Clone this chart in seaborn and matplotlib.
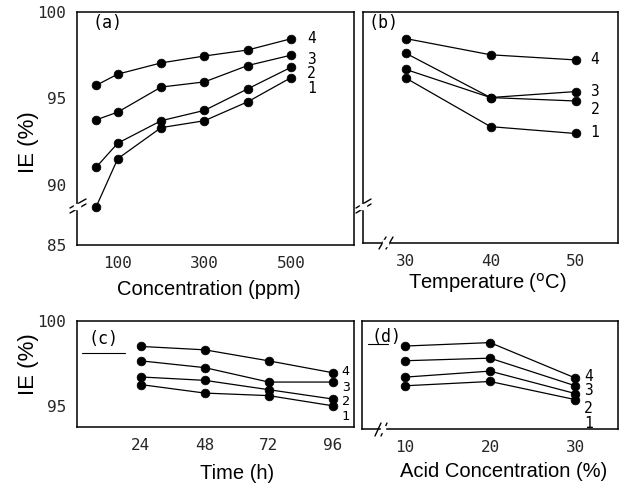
import matplotlib
matplotlib.use("Agg")
import matplotlib.pyplot as plt
from matplotlib.lines import Line2D
from matplotlib.patches import Rectangle
import seaborn as sns
import pandas as pd

# ---------------- data ----------------
series_names = ["1", "2", "3", "4"]

a_x = [50, 100, 200, 300, 400, 500]
a_1 = [88.7, 91.5, 93.3, 93.7, 94.8, 96.2]
a_2 = [91.0, 92.4, 93.7, 94.3, 95.55, 96.8]
a_3 = [93.75, 94.2, 95.65, 95.95, 96.9, 97.5]
a_4 = [95.75, 96.4, 97.05, 97.45, 97.8, 98.45]

b_x = [30, 40, 50]
b_1 = [96.15, 93.3, 92.9]
b_2 = [96.65, 95.0, 94.8]
b_3 = [97.6, 95.0, 95.35]
b_4 = [98.45, 97.5, 97.2]

c_x = [24, 48, 72, 96]
c_1 = [96.25, 95.75, 95.6, 95.0]
c_2 = [96.7, 96.5, 95.95, 95.4]
c_3 = [97.65, 97.25, 96.4, 96.4]
c_4 = [98.5, 98.3, 97.65, 96.95]

d_x = [10, 20, 30]
d_1 = [96.25, 96.5, 95.45]
d_2 = [96.75, 97.1, 95.8]
d_3 = [97.7, 97.85, 96.25]
d_4 = [98.55, 98.75, 96.7]

a_xticks = [100, 300, 500]
b_xticks = [30, 40, 50]
c_xticks = [24, 48, 72, 96]
d_xticks = [10, 20, 30]
top_yticks = [90, 95, 100]
top_ylabels = ["85", "90", "95", "100"]
bot_yticks = [95, 100]
bot_ylabels = ["95", "100"]

# ---------------- style ----------------
sns.set_theme(style="white")
plt.rcParams["font.family"] = ["Liberation Sans", "DejaVu Sans"]
thin = "DejaVu Sans Mono"

W, H = 623, 486
fig = plt.figure(figsize=(W / 100, H / 100), dpi=100)
fig.patch.set_facecolor("white")


def add_axes(l, t, r, b):
    return fig.add_axes([l / W, 1 - b / H, (r - l) / W, (b - t) / H])


def fline(p0, p1, lw=1.0):
    fig.add_artist(Line2D([p0[0] / W, p1[0] / W], [1 - p0[1] / H, 1 - p1[1] / H],
                          transform=fig.transFigure, color="black", lw=lw))


def fgap(x, y, w, h):
    fig.add_artist(Rectangle((x / W, 1 - (y + h) / H), w / W, h / H,
                             transform=fig.transFigure, color="white", zorder=5))


def panel(ax, xs, ys_list, xlim, ylim, xticks, label_dx, label_dy, label_fs=10.5):
    rows = []
    for name, ys in zip(series_names, ys_list):
        for xv, yv in zip(xs, ys):
            rows.append({"x": xv, "IE": yv, "series": name})
    df = pd.DataFrame(rows)
    sns.lineplot(data=df, x="x", y="IE", hue="series", units="series", estimator=None,
                 palette=["black"] * 4, marker="o", markersize=6.3,
                 markeredgecolor="black", markeredgewidth=0.5,
                 linewidth=0.9, legend=False, ax=ax, sort=False)
    ax.set_xlim(*xlim)
    ax.set_ylim(*ylim)
    ax.set_xticks(xticks)
    ax.set_xticklabels([str(t) for t in xticks], fontfamily=thin, fontsize=11.5)
    ax.tick_params(direction="in", length=6, width=0.9, color="black", pad=8)
    for s in ax.spines.values():
        s.set_color("black")
        s.set_linewidth(1.1)
    for name, ys, dy in zip(series_names, ys_list, label_dy):
        ax.annotate(name, xy=(xs[-1], ys[-1]), xytext=(label_dx * 0.72, -dy * 0.72),
                    textcoords="offset points", fontfamily=thin, fontsize=label_fs,
                    va="center", ha="left", color="black")
    ax.set_xlabel("")
    ax.set_ylabel("")


ax_a = add_axes(77, 12, 354, 245)
ax_b = add_axes(363, 12, 618, 243)
ax_c = add_axes(77, 321, 354, 427)
ax_d = add_axes(362, 321, 618, 429)

top_ylim = (86.5, 100)
bot_ylim = (93.75, 100)

panel(ax_a, a_x, [a_1, a_2, a_3, a_4], (6, 645), top_ylim, a_xticks, 16, [11, 6, 4, 0])
panel(ax_b, b_x, [b_1, b_2, b_3, b_4], (25, 55), top_ylim, b_xticks, 15, [-1, 9, 0, 0])
panel(ax_c, c_x, [c_1, c_2, c_3, c_4], (0, 104), bot_ylim, c_xticks, 9, [11, 2, 5, -1],
      label_fs=9.5)
panel(ax_d, d_x, [d_1, d_2, d_3, d_4], (5, 35), bot_ylim, d_xticks, 9, [24, 15, 5, -2])

ax_a.set_yticks([top_ylim[0]] + top_yticks)
ax_a.set_yticklabels(top_ylabels, fontfamily=thin, fontsize=11.5)
ax_b.set_yticks(top_yticks)
ax_b.set_yticklabels([])
ax_c.set_yticks(bot_yticks)
ax_c.set_yticklabels(bot_ylabels, fontfamily=thin, fontsize=11.5)
ax_d.set_yticks(bot_yticks)
ax_d.set_yticklabels([])

# axis labels
for ax, txt, x, y in [(ax_a, "Concentration (ppm)", 0.477, -0.19),
                      (ax_b, "Temperature ($^{\\mathrm{o}}$C)", 0.486, -0.173),
                      (ax_c, "Time (h)", 0.578, -0.434),
                      (ax_d, "Acid Concentration (%)", 0.555, -0.394)]:
    ax.set_xlabel(txt, fontsize=14.5, color="black")
    ax.xaxis.set_label_coords(x, y)
    ax.xaxis.label.set_verticalalignment("center")

for ax, y in [(ax_a, 0.442), (ax_c, 0.594)]:
    ax.set_ylabel("IE (%)", fontsize=16, color="black")
    ax.yaxis.set_label_coords(-0.175, y)
    ax.yaxis.label.set_verticalalignment("center")

# panel letters
for ax, txt, x, y in [(ax_a, "(a)", 107, 23), (ax_b, "(b)", 384, 23),
                      (ax_c, "(c)", 104, 339), (ax_d, "(d)", 386, 337)]:
    fig.text(x / W, 1 - y / H, txt, fontfamily=thin, fontsize=12,
             ha="center", va="center", color="black")

# axis breaks
fgap(74, 204, 6, 5)
fline((70, 208), (86, 199))
fline((70, 213), (86, 204))
fgap(360, 204, 6, 5)
fline((356, 208), (371, 199))
fline((356, 213), (371, 204))
fgap(383, 240, 5, 6)
fline((379, 249), (386, 237))
fline((386, 249), (393, 237))
fgap(381, 426, 4, 6)
fline((375, 436), (381, 423))
fline((381, 436), (387, 423))
fline((82, 353), (125, 353), lw=0.8)
fline((368, 344), (388, 344), lw=0.8)

fig.savefig("out.png", dpi=100, facecolor="white")
